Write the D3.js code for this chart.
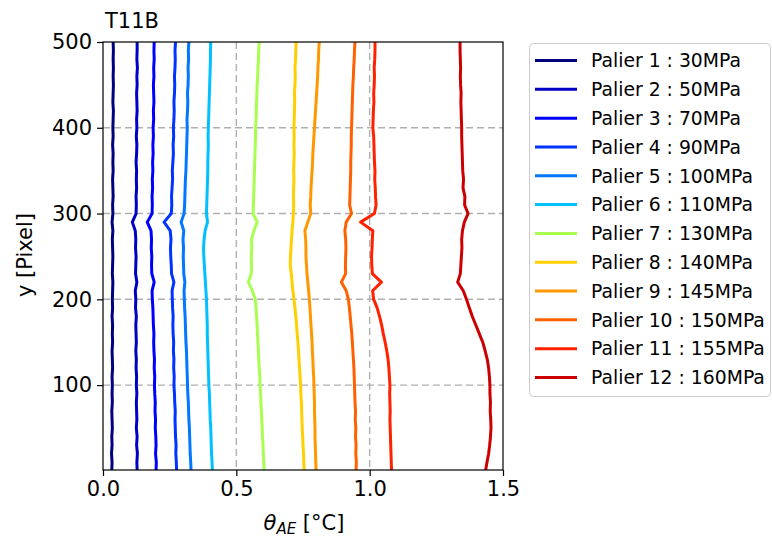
<!DOCTYPE html>
<html><head><meta charset="utf-8">
<script src="https://cdn.jsdelivr.net/npm/d3@7"></script>
<style>body{margin:0;background:#fff;}text{font-family:"DejaVu Sans",sans-serif;fill:#000;}</style>
</head><body>
<svg id="chart" width="772" height="540"></svg>
<script>
const title = "T11B";
const seriesNames = ["Palier 1 : 30MPa","Palier 2 : 50MPa","Palier 3 : 70MPa","Palier 4 : 90MPa","Palier 5 : 100MPa","Palier 6 : 110MPa","Palier 7 : 130MPa","Palier 8 : 140MPa","Palier 9 : 145MPa","Palier 10 : 150MPa","Palier 11 : 155MPa","Palier 12 : 160MPa"];
const seriesColors = ["#000080","#0000c4","#0000ff","#0034ff","#0078ff","#00c0ff","#a8ff50","#ffd000","#ff9800","#ff6000","#ff2200","#cc0000"];
const yPixels = [1,10,20,30,40,50,60,70,80,90,100,110,120,130,140,150,160,170,180,190,200,210,220,230,240,250,260,270,280,290,300,310,320,330,340,350,360,370,380,390,400,410,420,430,440,450,460,470,480,490,500];
const s1 = [0.033,0.034,0.032,0.034,0.033,0.035,0.034,0.033,0.035,0.034,0.035,0.034,0.036,0.035,0.034,0.036,0.035,0.036,0.034,0.036,0.035,0.036,0.037,0.035,0.036,0.037,0.036,0.035,0.037,0.034,0.037,0.036,0.038,0.037,0.036,0.038,0.037,0.038,0.036,0.038,0.037,0.038,0.039,0.037,0.038,0.039,0.038,0.039,0.038,0.039,0.038];
const s2 = [0.128,0.127,0.129,0.126,0.128,0.125,0.127,0.126,0.125,0.127,0.125,0.126,0.124,0.125,0.123,0.125,0.124,0.123,0.125,0.122,0.123,0.121,0.127,0.122,0.123,0.124,0.122,0.123,0.121,0.110,0.124,0.125,0.124,0.126,0.125,0.126,0.124,0.126,0.127,0.125,0.127,0.126,0.128,0.127,0.126,0.128,0.127,0.129,0.127,0.128,0.128];
const s3 = [0.199,0.200,0.197,0.199,0.198,0.196,0.197,0.195,0.196,0.194,0.193,0.194,0.192,0.193,0.191,0.190,0.191,0.189,0.188,0.187,0.185,0.184,0.192,0.183,0.182,0.183,0.181,0.182,0.180,0.166,0.184,0.185,0.184,0.186,0.185,0.187,0.186,0.188,0.187,0.189,0.188,0.190,0.189,0.191,0.190,0.189,0.191,0.190,0.192,0.191,0.192];
const s4 = [0.276,0.275,0.273,0.274,0.272,0.271,0.270,0.271,0.269,0.268,0.266,0.267,0.265,0.266,0.264,0.265,0.263,0.262,0.263,0.261,0.260,0.259,0.266,0.257,0.256,0.254,0.253,0.255,0.252,0.229,0.256,0.258,0.257,0.259,0.261,0.260,0.262,0.264,0.263,0.265,0.264,0.266,0.267,0.266,0.268,0.269,0.268,0.270,0.271,0.270,0.272];
const s5 = [0.330,0.329,0.327,0.326,0.325,0.324,0.322,0.321,0.320,0.318,0.317,0.316,0.315,0.314,0.313,0.311,0.310,0.309,0.308,0.306,0.305,0.304,0.307,0.303,0.302,0.301,0.302,0.300,0.303,0.293,0.304,0.306,0.307,0.308,0.309,0.311,0.312,0.313,0.314,0.315,0.316,0.315,0.317,0.318,0.317,0.319,0.320,0.319,0.321,0.320,0.322];
const s6 = [0.410,0.409,0.407,0.406,0.405,0.404,0.402,0.401,0.400,0.399,0.397,0.396,0.395,0.394,0.393,0.392,0.391,0.391,0.390,0.389,0.388,0.386,0.384,0.382,0.380,0.378,0.377,0.379,0.383,0.392,0.388,0.389,0.390,0.391,0.392,0.393,0.393,0.394,0.395,0.394,0.395,0.396,0.397,0.398,0.399,0.400,0.401,0.402,0.403,0.403,0.404];
const s7 = [0.604,0.603,0.601,0.600,0.598,0.597,0.595,0.594,0.592,0.591,0.589,0.588,0.586,0.584,0.583,0.581,0.579,0.578,0.576,0.574,0.571,0.560,0.545,0.556,0.557,0.556,0.558,0.557,0.566,0.578,0.563,0.564,0.565,0.566,0.567,0.568,0.569,0.570,0.571,0.572,0.572,0.574,0.575,0.576,0.577,0.578,0.580,0.581,0.583,0.584,0.586];
const s8 = [0.754,0.753,0.752,0.750,0.749,0.747,0.746,0.745,0.744,0.742,0.741,0.739,0.737,0.735,0.733,0.731,0.728,0.726,0.723,0.720,0.716,0.712,0.709,0.706,0.702,0.703,0.705,0.707,0.709,0.712,0.714,0.715,0.714,0.715,0.716,0.715,0.716,0.717,0.716,0.717,0.716,0.717,0.718,0.719,0.718,0.720,0.721,0.720,0.722,0.723,0.724];
const s9 = [0.799,0.798,0.797,0.796,0.795,0.795,0.794,0.793,0.793,0.792,0.791,0.790,0.788,0.787,0.785,0.784,0.782,0.780,0.778,0.776,0.774,0.771,0.768,0.765,0.763,0.761,0.761,0.760,0.757,0.768,0.779,0.777,0.779,0.780,0.782,0.784,0.786,0.787,0.789,0.791,0.793,0.795,0.797,0.799,0.801,0.803,0.805,0.806,0.808,0.809,0.811];
const s10 = [0.949,0.950,0.948,0.949,0.947,0.948,0.946,0.947,0.945,0.944,0.943,0.942,0.941,0.939,0.937,0.935,0.933,0.930,0.927,0.924,0.920,0.912,0.894,0.910,0.909,0.910,0.911,0.910,0.907,0.912,0.932,0.925,0.926,0.927,0.928,0.929,0.929,0.930,0.931,0.931,0.932,0.933,0.934,0.935,0.936,0.937,0.939,0.940,0.942,0.943,0.945];
const s11 = [1.082,1.081,1.080,1.079,1.078,1.077,1.076,1.077,1.076,1.075,1.076,1.074,1.072,1.069,1.064,1.058,1.051,1.045,1.037,1.028,1.015,1.011,1.044,1.010,1.008,1.007,1.009,1.010,1.012,0.966,1.018,1.024,1.022,1.021,1.019,1.020,1.018,1.017,1.016,1.015,1.012,1.013,1.014,1.016,1.015,1.017,1.018,1.017,1.019,1.020,1.020];
const s12 = [1.435,1.440,1.446,1.450,1.453,1.455,1.454,1.452,1.453,1.451,1.451,1.449,1.446,1.441,1.433,1.424,1.411,1.398,1.385,1.374,1.363,1.351,1.330,1.340,1.342,1.344,1.346,1.345,1.348,1.355,1.369,1.356,1.357,1.350,1.352,1.349,1.348,1.347,1.346,1.345,1.345,1.344,1.343,1.342,1.343,1.341,1.340,1.341,1.340,1.339,1.339];
const seriesValues = [s1,s2,s3,s4,s5,s6,s7,s8,s9,s10,s11,s12];
const xTicks = [0, 0.5, 1.0, 1.5];
const yTicks = [100, 200, 300, 400, 500];

const svg = d3.select("#chart");
const L = 103, T = 42, W = 400, H = 428;
const x = d3.scaleLinear().domain([0, 1.5]).range([L, L + W]);
const y = d3.scaleLinear().domain([1, 500]).range([T + H, T]);

// grid
const grid = svg.append("g");
grid.selectAll("line.gx").data([0.5, 1.0]).join("line")
  .attr("x1", d => x(d)).attr("x2", d => x(d)).attr("y1", T).attr("y2", T + H)
  .attr("stroke", "#b0b0b0").attr("stroke-width", 1.4).attr("stroke-dasharray", "7,4");
grid.selectAll("line.gy").data([100, 200, 300, 400]).join("line")
  .attr("x1", L).attr("x2", L + W).attr("y1", d => y(d)).attr("y2", d => y(d))
  .attr("stroke", "#b0b0b0").attr("stroke-width", 1.4).attr("stroke-dasharray", "7,4");

svg.append("clipPath").attr("id", "clip").append("rect").attr("x", L).attr("y", T).attr("width", W).attr("height", H);
const line = d3.line().x(d => x(d[0])).y(d => y(d[1]));
svg.append("g").attr("clip-path", "url(#clip)").selectAll("path").data(seriesValues).join("path")
  .attr("d", (vals) => line(vals.map((v, i) => [v, yPixels[i]])))
  .attr("fill", "none").attr("stroke", (d, i) => seriesColors[i]).attr("stroke-width", 3)
  .attr("stroke-linejoin", "round");

// axes
const xAxis = svg.append("g").attr("transform", `translate(0,${T + H})`)
  .call(d3.axisBottom(x).tickValues(xTicks).tickFormat(d3.format(".1f")).tickSize(6).tickPadding(5));
const yAxis = svg.append("g").attr("transform", `translate(${L},0)`)
  .call(d3.axisLeft(y).tickValues(yTicks).tickSize(6).tickPadding(5));
[xAxis, yAxis].forEach(a => {
  a.select(".domain").remove();
  a.selectAll("line").attr("stroke", "#000").attr("stroke-width", 1.2);
  a.selectAll("text").style("font-size", "21px").style("font-family", "DejaVu Sans").attr("fill", "#000");
});
svg.append("rect").attr("x", L).attr("y", T).attr("width", W).attr("height", H)
  .attr("fill", "none").attr("stroke", "#000").attr("stroke-width", 1.2);

// labels
svg.append("text").attr("x", 105).attr("y", 28).style("font-size", "21px").text(title);
svg.append("text").attr("transform", `translate(32,255) rotate(-90)`).attr("text-anchor", "middle")
  .style("font-size", "21px").text("y [Pixel]");
const xl = svg.append("text").attr("x", 304).attr("y", 530).attr("text-anchor", "middle").style("font-size", "21px");
xl.append("tspan").style("font-style", "italic").text("θ");
xl.append("tspan").style("font-style", "italic").style("font-size", "15px").attr("dy", 4).text("AE");
xl.append("tspan").attr("dy", -4).text(" [°C]");

// legend
const lg = svg.append("g");
lg.append("rect").attr("x", 529.5).attr("y", 43.5).attr("width", 241).attr("height", 353).attr("rx", 4)
  .attr("fill", "#fff").attr("stroke", "#cccccc").attr("stroke-width", 1);
const ly = d3.scaleLinear().domain([0, 11]).range([60.5, 377.5]);
const items = lg.selectAll("g.item").data(seriesNames).join("g").attr("transform", (d, i) => `translate(0,${ly(i)})`);
items.append("line").attr("x1", 535).attr("x2", 577).attr("stroke", (d, i) => seriesColors[i]).attr("stroke-width", 3);
items.append("text").attr("x", 591).attr("y", 6.8).style("font-size", "18.8px").text(d => d);
</script>
</body></html>
